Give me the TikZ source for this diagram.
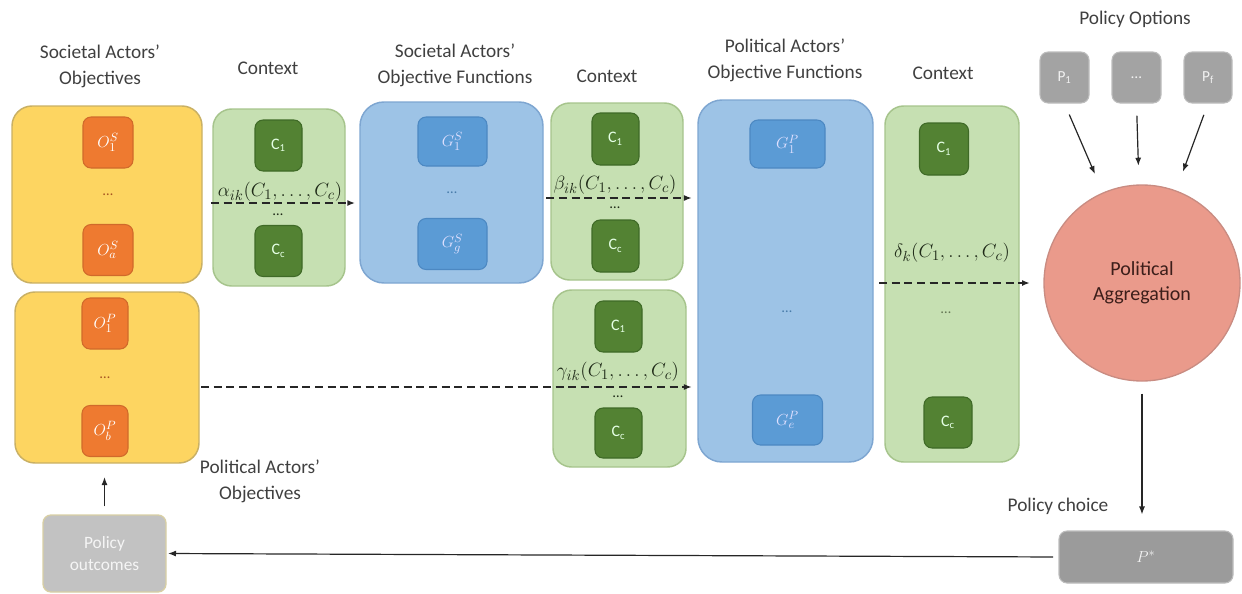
\documentclass[tikz,border=0pt]{standalone}
\usepackage{fontspec}
\setmainfont{Carlito}
\usetikzlibrary{fit,arrows.meta,calc}
\definecolor{ybg}{HTML}{FDD561}
\definecolor{ybd}{HTML}{C9B064}
\definecolor{obg}{HTML}{EE7A30}
\definecolor{obd}{HTML}{D06A2A}
\definecolor{gbg}{HTML}{C6E0B2}
\definecolor{gbd}{HTML}{A6C48C}
\definecolor{dgbg}{HTML}{538233}
\definecolor{dgbd}{HTML}{3F6A27}
\definecolor{bbg}{HTML}{9DC3E6}
\definecolor{bbd}{HTML}{7EA6D1}
\definecolor{ibg}{HTML}{5B9BD5}
\definecolor{ibd}{HTML}{4C88C2}
\definecolor{gray1}{HTML}{A3A3A3}
\definecolor{gray1bd}{HTML}{BDBDBD}
\definecolor{outbg}{HTML}{C2C2C2}
\definecolor{outbd}{HTML}{D8CFA4}
\definecolor{aggbg}{HTML}{EA9A8B}
\definecolor{aggbd}{HTML}{C98C82}
\definecolor{lbltxt}{HTML}{404040}
\definecolor{aggtxt}{HTML}{3C1E1A}
\definecolor{mathtxt}{HTML}{1F2A18}
\begin{document}
\begin{tikzpicture}[x=0.75pt,y=-0.75pt,
  font=\fontsize{14.5}{19.5}\selectfont,
  sz/.style 2 args={minimum width=#1*0.75pt, minimum height=#2*0.75pt, inner sep=0pt},
  ybig/.style={fill=ybg, draw=ybd, line width=1.1pt, rounded corners=15pt, inner sep=0pt},
  gbig/.style={fill=gbg, draw=gbd, line width=1.1pt, rounded corners=14pt, inner sep=0pt},
  bbig/.style={fill=bbg, draw=bbd, line width=1.1pt, rounded corners=18pt, inner sep=0pt},
  obox/.style={fill=obg, draw=obd, line width=0.8pt, rounded corners=6pt, text=white, font=\fontsize{12.5}{14}\selectfont},
  cbox/.style={fill=dgbg, draw=dgbd, line width=0.8pt, rounded corners=6pt, text=white!90!green, font=\fontsize{12}{14}\selectfont},
  ibox/.style={fill=ibg, draw=ibd, line width=0.8pt, rounded corners=6pt, text=white!88!blue, font=\fontsize{12.5}{14}\selectfont},
  pbox/.style={fill=gray1, draw=gray1bd, line width=0.8pt, rounded corners=6pt, text=white!90!gray, font=\fontsize{11.5}{14}\selectfont},
  lbl/.style={text=lbltxt, align=center, inner sep=0pt},
  mlbl/.style={text=mathtxt, inner sep=0pt, font=\fontsize{15}{17}\selectfont},
  dots/.style={inner sep=0pt, font=\fontsize{11}{12}\selectfont},
  arr/.style={draw=black!85, line width=0.9pt, -{Latex[length=6pt,width=4.5pt]}},
  darr/.style={draw=black!85, line width=1.3pt, dash pattern=on 6pt off 3.5pt, -{Latex[length=6pt,width=4.5pt]}}
]
\useasboundingbox (0,0) rectangle (1242,593);

% ---------- top labels ----------
\node[lbl] (LSO) at (100,66) {Societal Actors’\\Objectives};
\node[lbl] (LC1) at (268,68) {Context};
\node[lbl] (LSF) at (455,65) {Societal Actors’\\Objective Functions};
\node[lbl] (LC2) at (607,76) {Context};
\node[lbl] (LPF) at (785,60) {Political Actors’\\Objective Functions};
\node[lbl] (LC3) at (943,73) {Context};
\node[lbl] (LPO) at (1135,19) {Policy Options};
\node[lbl] (LPA) at (260,481) {Political Actors’\\Objectives};
\node[lbl] (LPC) at (1058,506) {Policy choice};

% ---------- societal objectives ----------
\node[ybig, fit={(12,106) (202,283)}] (Y1) {};
\node[obox, sz={50}{51}] (O1S) at (108,142.5) {$O_1^S$};
\node[dots, text=obg!70!black] (Y1d) at (108,195) {\ldots};
\node[obox, sz={50}{51}] (OaS) at (108,250) {$O_a^S$};

% ---------- political objectives ----------
\node[ybig, fit={(15,292) (199,463)}] (Y2) {};
\node[obox, sz={46}{51}] (O1P) at (105,323.5) {$O_1^P$};
\node[dots, text=obg!70!black] (Y2d) at (105,378) {\ldots};
\node[obox, sz={46}{51}] (ObP) at (105,431) {$O_b^P$};

% ---------- context 1 ----------
\node[gbig, fit={(213,109) (345,286)}] (K1) {};
\node[cbox, sz={47}{51}] (K1a) at (278.5,145.5) {C\textsubscript{1}};
\node[dots, text=mathtxt] (K1d) at (278,215) {\ldots};
\node[cbox, sz={47}{51}] (K1b) at (278.5,251) {C\textsubscript{c}};

% ---------- societal objective functions ----------
\node[bbig, fit={(360,102) (543,283)}] (B1) {};
\node[ibox, sz={69}{49}] (G1S) at (452.5,141.5) {$G_1^S$};
\node[dots, text=ibg!80!black] (B1d) at (452,193) {\ldots};
\node[ibox, sz={69}{51}] (GgS) at (452.5,244) {$G_g^S$};

% ---------- context 2 ----------
\node[gbig, fit={(551,103) (683,280)}] (K2) {};
\node[cbox, sz={47}{52}] (K2a) at (615.5,139) {C\textsubscript{1}};
\node[dots, text=mathtxt] (K2d) at (615,208) {\ldots};
\node[cbox, sz={47}{52}] (K2b) at (615.5,246) {C\textsubscript{c}};

% ---------- context 4 ----------
\node[gbig, fit={(553,290) (686,467)}] (K4) {};
\node[cbox, sz={47}{51}] (K4a) at (618.5,326.5) {C\textsubscript{1}};
\node[dots, text=mathtxt] (K4d) at (618,397) {\ldots};
\node[cbox, sz={47}{50}] (K4b) at (618.5,433) {C\textsubscript{c}};

% ---------- political objective functions ----------
\node[bbig, fit={(698,100) (873,462)}] (B2) {};
\node[ibox, sz={75}{48}] (G1P) at (787.5,144) {$G_1^P$};
\node[dots, text=ibg!80!black] (B2d) at (787,312) {\ldots};
\node[ibox, sz={70}{50}] (GeP) at (787.5,420) {$G_e^P$};

% ---------- context 3 ----------
\node[gbig, fit={(885,106) (1019,462)}] (K3) {};
\node[cbox, sz={49}{52}] (K3a) at (944,149) {C\textsubscript{1}};
\node[dots, text=gbd!60!black] (K3d) at (946,313) {\ldots};
\node[cbox, sz={48}{51}] (K3b) at (948,422.5) {C\textsubscript{c}};

% ---------- policy options ----------
\node[pbox, sz={49}{51}] (P1) at (1064.5,77.5) {P\textsubscript{1}};
\node[pbox, sz={49}{51}] (Pd) at (1136.5,77.5) {\ldots};
\node[pbox, sz={48}{51}] (Pf) at (1208,77.5) {P\textsubscript{f}};

% ---------- aggregation ----------
\node[circle, fill=aggbg, draw=aggbd, line width=1pt, minimum size=196*0.75pt, inner sep=0pt,
      align=center, text=aggtxt, font=\fontsize{15}{19}\selectfont] (Agg) at (1142,283) {Political\\Aggregation};

% ---------- policy choice / outcomes ----------
\node[pbox, sz={174}{52}, fill=gray1!95!black, font=\fontsize{13}{15}\selectfont] (Pst) at (1146,557) {$P^{*}$};
\node[fill=outbg, draw=outbd, line width=1pt, rounded corners=6pt, sz={123}{77},
      align=center, text=white!92!gray, font=\fontsize{13}{16}\selectfont] (Out) at (104.5,553.5) {Policy\\outcomes};

% ---------- math labels ----------
\node[mlbl] (alpha) at (280,192) {$\alpha_{ik}(C_1,\ldots,C_c)$};
\node[mlbl] (beta)  at (615,185) {$\beta_{ik}(C_1,\ldots,C_c)$};
\node[mlbl] (gamma) at (618,372) {$\gamma_{ik}(C_1,\ldots,C_c)$};
\node[mlbl] (delta) at (952,253) {$\delta_{k}(C_1,\ldots,C_c)$};

% ---------- connectors ----------
\draw[darr, shorten <=-1pt, shorten >=3pt] (K1.west |- 0,203) -- (B1.west |- 0,203);
\draw[darr, shorten <=-3pt, shorten >=4pt] (K2.west |- 0,198) -- (B2.west |- 0,198);
\draw[darr, shorten <=1pt, shorten >=4pt] (Y2.east |- 0,387) -- (B2.west |- 0,387);
\draw[darr, shorten <=4pt, shorten >=10pt] (B2.east |- Agg.west) -- (Agg.west);

\draw[arr, shorten <=9pt, shorten >=89pt] (P1.south) -- (Agg.center);
\draw[arr, shorten <=9pt, shorten >=88pt] (Pd.south) -- (Agg.center);
\draw[arr, shorten <=9pt, shorten >=89pt] (Pf.south) -- (Agg.center);

\draw[arr, shorten <=9pt, shorten >=12pt] (Agg.south) -- (Agg.south |- Pst.north);
\draw[arr, shorten <=4pt, shorten >=1pt] (Pst.west) -- (Out.east);
\draw[arr, shorten <=6pt, shorten >=10pt] (Out.north) -- (Out.north |- Y2.south);
\end{tikzpicture}
\end{document}
